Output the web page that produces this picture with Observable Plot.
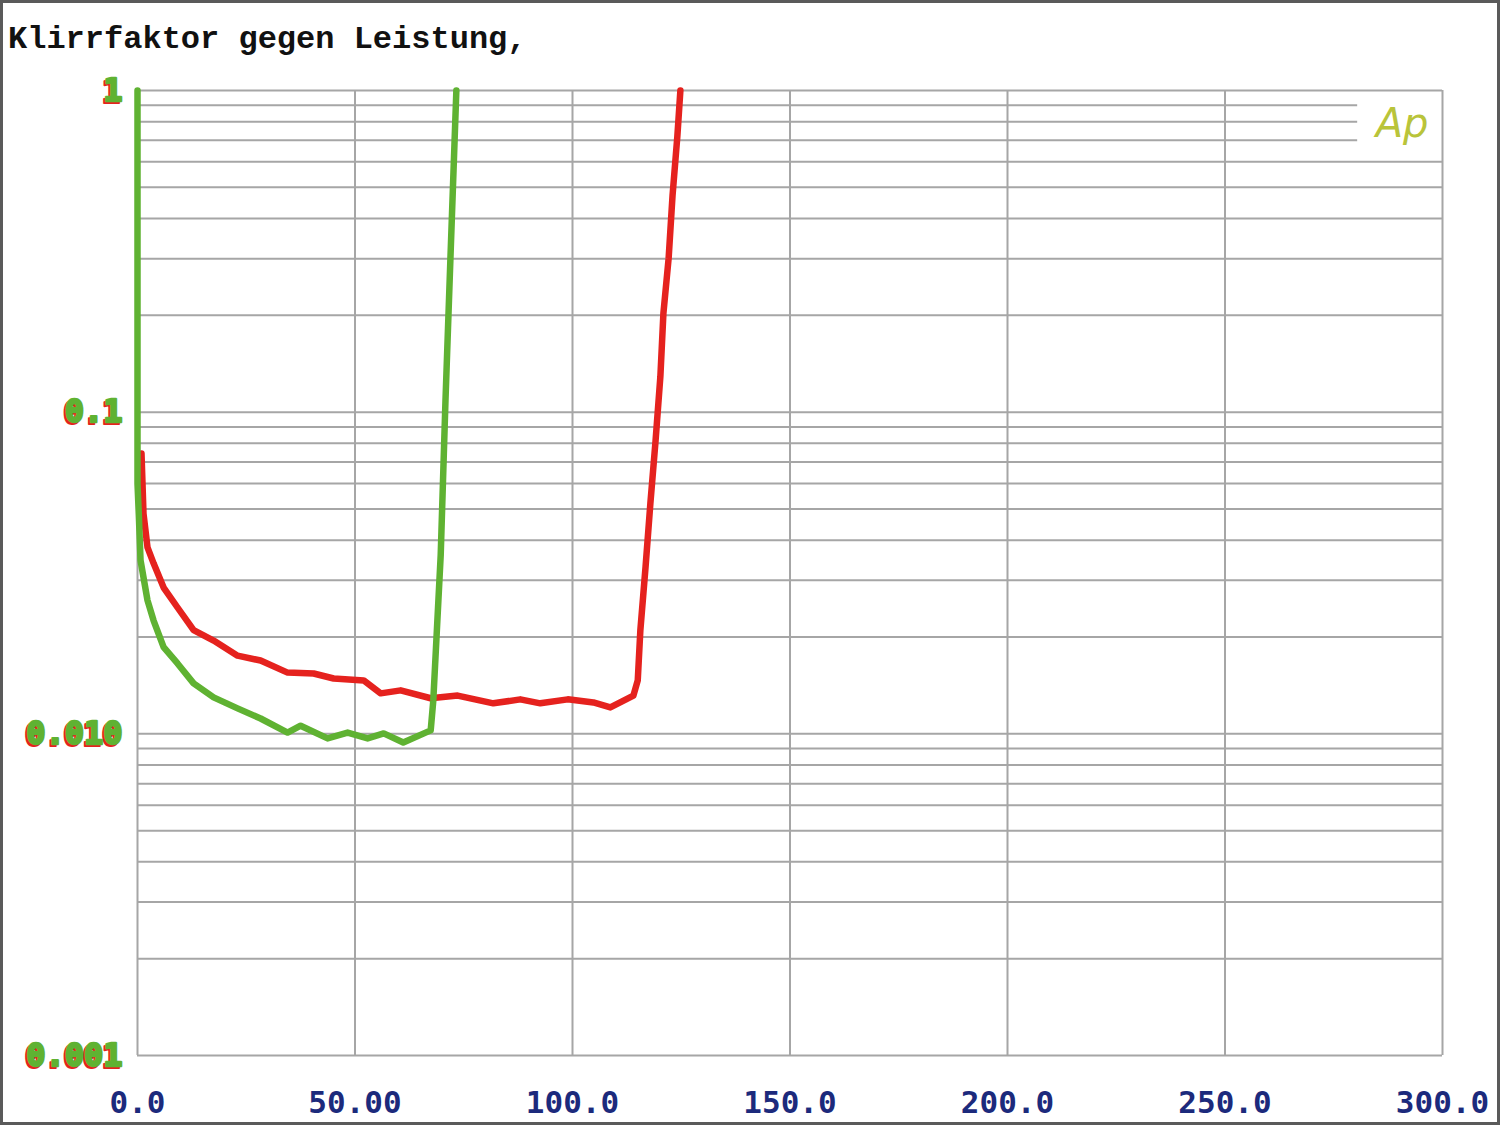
<!DOCTYPE html>
<html>
<head>
<meta charset="utf-8">
<script src="https://cdn.jsdelivr.net/npm/d3@7"></script>
<script src="https://cdn.jsdelivr.net/npm/@observablehq/plot@0.6"></script>
<style>
  html, body { margin: 0; padding: 0; background: #fff; }
  #wrap { position: relative; width: 1500px; height: 1125px; overflow: hidden; background: #fff; }
  #wrap svg { position: absolute; left: 0; top: 0; }
  #title { position: absolute; left: 8px; top: 21px; font-family: "Liberation Mono", monospace; font-weight: bold; font-size: 32px; color: #111; white-space: pre; }
  #frame { position: absolute; left: 0; top: 0; width: 1500px; height: 1125px; box-sizing: border-box; border: 3px solid #5a5a5a; pointer-events: none; }
</style>
</head>
<body>
<div id="wrap">
  <div id="title"></div>
  <div id="frame"></div>
</div>
<script>
// ---- data ----
const titleText = "Klirrfaktor gegen Leistung,";
const xTicks = [0, 50, 100, 150, 200, 250, 300];
const xTickLabels = ["0.0", "50.00", "100.0", "150.0", "200.0", "250.0", "300.0"];
const yTicks = [1, 0.1, 0.01, 0.001];
const yTickLabels = ["1", "0.1", "0.010", "0.001"];
const decades = [0.001, 0.01, 0.1];
const mantissas = [1, 2, 3, 4, 5, 6, 7, 8, 9];
const shortGridY = [0.7, 0.8, 0.9];
const shortGridEnd = 280.5;

const greenX = [0, 0, 0.3, 0.7, 2.3, 3.7, 6.0, 9.2, 12.9, 17.5, 23.0, 28.3, 34.5, 37.5, 43.7, 48.3, 52.9, 56.6, 61.1, 67.4, 68.0, 69.7, 70.8, 72.0, 73.3];
const greenY = [1, 0.06, 0.048, 0.0346, 0.026, 0.0225, 0.0186, 0.01655, 0.01435, 0.01298, 0.0120, 0.01116, 0.01009, 0.0106, 0.00968, 0.01009, 0.00968, 0.01003, 0.0094, 0.01025, 0.0127, 0.0359, 0.1087, 0.318, 1];

const redX = [0.92, 1.38, 2.3, 3.7, 6.0, 9.2, 12.9, 17.5, 23.0, 28.3, 34.5, 40.5, 45.1, 52.0, 55.9, 60.5, 67.4, 73.6, 81.8, 88.0, 92.6, 98.9, 104.8, 108.7, 114.0, 115.0, 115.6, 116.8, 117.9, 119.1, 120.2, 120.9, 122.1, 123.0, 124.1, 124.8];
const redY = [0.0744, 0.0484, 0.0380, 0.0339, 0.0285, 0.0247, 0.0210, 0.0195, 0.0175, 0.0169, 0.0155, 0.0154, 0.01486, 0.01466, 0.01336, 0.01365, 0.0129, 0.01315, 0.01244, 0.0128, 0.01244, 0.0128, 0.01252, 0.01208, 0.01315, 0.01466, 0.0210, 0.0331, 0.0520, 0.0817, 0.129, 0.203, 0.301, 0.472, 0.719, 1.0];

// ---- derived tables ----
const green = greenX.map((x, i) => ({x, y: greenY[i]}));
const red = redX.map((x, i) => ({x, y: redY[i]}));
const gridYAll = decades.flatMap(d => mantissas.map(m => +(d * m).toPrecision(3))).concat([1]);
const gridYFull = gridYAll.filter(v => !shortGridY.includes(v));
const xLabel = new Map(xTicks.map((t, i) => [t, xTickLabels[i]]));
const yLabels = yTicks.map((t, i) => ({y: t, label: yTickLabels[i]}));

const gridColor = "#a6a6a6";
const greenColor = "#5fb232";
const redColor = "#e5221e";

document.getElementById("title").textContent = titleText;

const yLabelStyle = {y: "y", text: "label", frameAnchor: "left", textAnchor: "end",
  fontSize: 32, fontFamily: "DejaVu Sans Mono", fontWeight: "bold"};

const chart = Plot.plot({
  width: 1500,
  height: 1125,
  marginLeft: 137,
  marginRight: 58,
  marginTop: 90,
  marginBottom: 70,
  style: {background: "transparent"},
  x: {domain: [0, 300], axis: null},
  y: {type: "log", domain: [0.001, 1], axis: null},
  marks: [
    Plot.ruleY(gridYFull, {y: d => d, stroke: gridColor, strokeWidth: 2}),
    Plot.ruleY(shortGridY, {y: d => d, x1: 0, x2: shortGridEnd, stroke: gridColor, strokeWidth: 2}),
    Plot.ruleX(xTicks, {x: d => d, stroke: gridColor, strokeWidth: 2}),
    Plot.line(red, {x: "x", y: "y", stroke: redColor, strokeWidth: 6.5, strokeLinejoin: "round", strokeLinecap: "round"}),
    Plot.line(green, {x: "x", y: "y", stroke: greenColor, strokeWidth: 6.5, strokeLinejoin: "round", strokeLinecap: "round"}),
    Plot.axisX({ticks: xTicks, tickFormat: d => xLabel.get(d), tickSize: 0, tickPadding: 35,
      fill: "#1c2a7c", fontSize: 31, fontFamily: "DejaVu Sans Mono", fontWeight: "bold", label: null}),
    Plot.text(yLabels, {...yLabelStyle, dx: -17, dy: 2, fill: redColor, stroke: redColor, strokeWidth: 2}),
    Plot.text(yLabels, {...yLabelStyle, dx: -15, fill: greenColor, stroke: greenColor, strokeWidth: 2.5}),
    Plot.text(["Ap"], {frameAnchor: "top-right", dx: -14, dy: 18, fill: "#b9c43a", fontSize: 40,
      fontFamily: "DejaVu Sans", fontStyle: "italic", fontWeight: 300})
  ]
});
document.getElementById("wrap").insertBefore(chart, document.getElementById("title"));
</script>
</body>
</html>
